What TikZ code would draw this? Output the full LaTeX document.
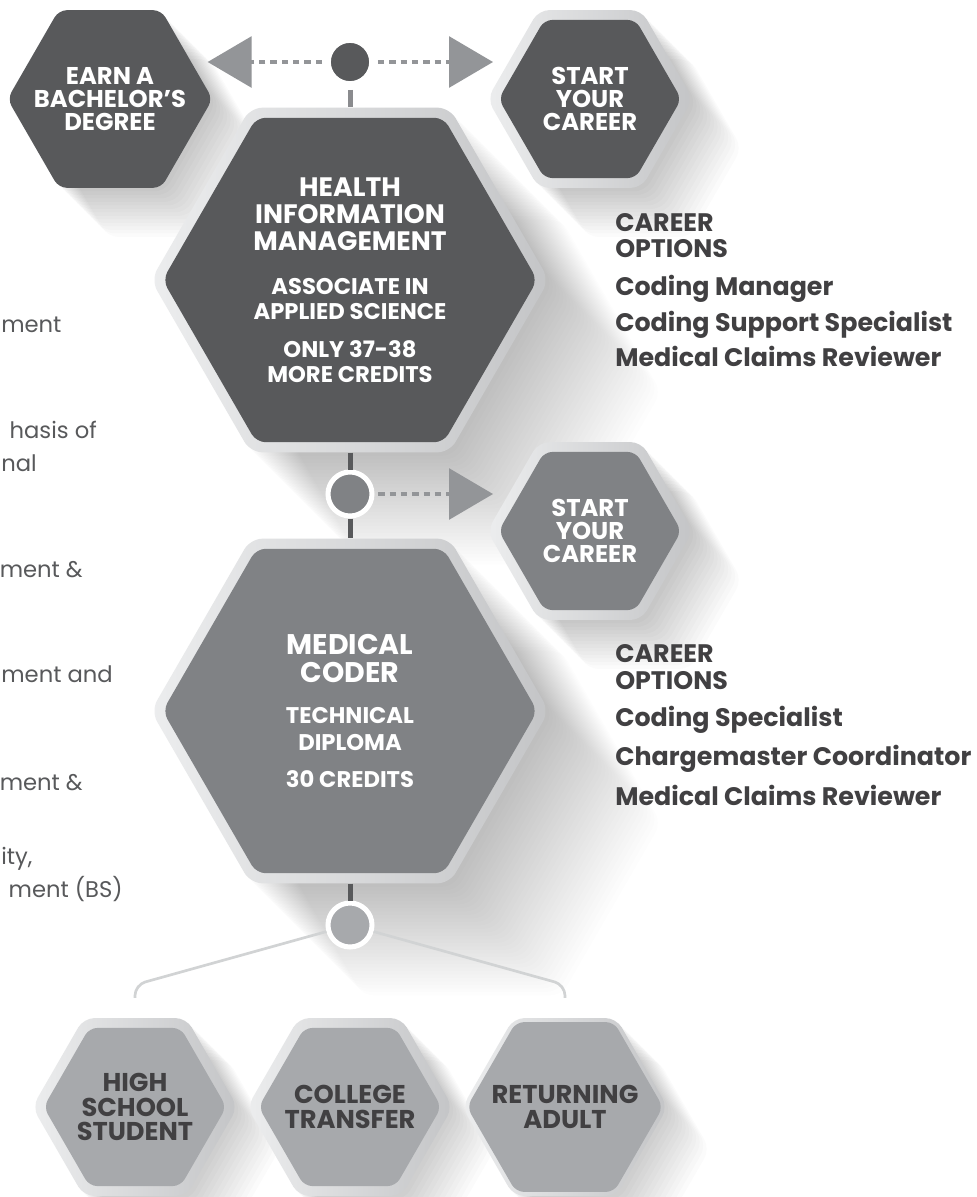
\documentclass[tikz,border=0pt]{standalone}
\usepackage{fontspec}
\setmainfont{Poppins}
\usetikzlibrary{shapes.geometric,arrows.meta}
\definecolor{hexdark}{HTML}{58595B}
\definecolor{hexmid}{HTML}{808285}
\definecolor{hexlight}{HTML}{A7A9AC}
\definecolor{ringleft}{HTML}{ECEDEE}
\definecolor{ringright}{HTML}{C4C5C7}
\definecolor{textdark}{HTML}{414042}
\definecolor{dotgray}{HTML}{939598}
\definecolor{branchgray}{HTML}{D1D3D4}
\definecolor{stemgray}{HTML}{8A8B8E}
\newcommand{\hexsub}{\fontsize{17}{18}\selectfont}
\tikzset{
  hexbase/.style={regular polygon, regular polygon sides=6, inner sep=-10pt, align=center},
  shadowcopy/.style={fill=black, rounded corners=8pt},
  ringsmall/.style={hexbase, minimum size=154pt, rounded corners=8pt, left color=ringleft, right color=ringright},
  ringbig/.style={hexbase, minimum size=298.5pt, rounded corners=9pt, left color=ringleft, right color=ringright},
  hexsmall/.style={hexbase, minimum size=137pt, rounded corners=6pt, text=white,
    font=\fontsize{18.2}{17.4}\selectfont\bfseries},
  hexbig/.style={hexbase, minimum size=281pt, rounded corners=7pt, text=white},
  dot/.style={circle, minimum size=33pt, inner sep=0pt, draw=white, line width=3.75pt},
  dotline/.style={draw=dotgray, line width=3pt, dash pattern=on 4.9pt off 3.6pt, shorten <=2.8pt,
    -{Triangle[length=33pt,width=38pt]}},
  stem/.style={draw=hexdark, line width=3.75pt},
  branch/.style={draw=branchgray, line width=2pt, rounded corners=8pt},
  careers/.style={anchor=north west, align=left, inner sep=0pt, text=textdark,
    font=\fontsize{19}{19.5}\selectfont\bfseries},
  sidetext/.style={anchor=base east, inner sep=0pt, text=hexdark, font=\fontsize{17}{24}\selectfont}
}
\begin{document}
\begin{tikzpicture}[x=0.75pt,y=0.75pt]
\fill[white] (0,0) rectangle (977,-1197);
\useasboundingbox (0,0) rectangle (977,-1197);
% soft shadows, down and to the right
\foreach \cx/\cy/\r/\n/\o in {110/-99/102.75/14/0.016, 590/-99/102.75/14/0.016, 350/-280/199/32/0.0075,
    590/-531/102.75/14/0.016, 350/-711/199/32/0.0075, 135/-1107/102.75/12/0.016,
    350/-1107/102.75/12/0.016, 565/-1107/102.75/12/0.016}
  \foreach \k in {1,...,\n}
    \fill[shadowcopy, opacity=\o] (\cx+\k*3.5,\cy-\k*3.5) ++(0:\r) -- ++(120:\r) -- ++(180:\r)
      -- ++(240:\r) -- ++(300:\r) -- ++(0:\r) -- cycle;
% cut-off list on the left
\node[sidetext, anchor=base west] (fraga) at (1,-332) {ment};
\node[sidetext] (fragb) at (97,-438) {hasis of};
\node[sidetext, anchor=base west] (fragc) at (1,-471) {nal};
\node[sidetext] (fragd) at (83,-577) {ment \&};
\node[sidetext] (frage) at (113,-682) {ment and};
\node[sidetext] (fragf) at (83,-790) {ment \&};
\node[sidetext, anchor=base west] (fragg) at (1,-864) {ity,};
\node[sidetext] (fragh) at (123,-897) {ment (BS)};
%
\node[ringsmall] (bachring) at (110,-99) {};
\node[hexsmall, fill=hexdark] (bach) at (bachring) {EARN A\\BACHELOR'S\\DEGREE};
\node[ringsmall] (topstartring) at (590,-99) {};
\node[hexsmall, fill=hexdark] (topstart) at (topstartring) {START\\YOUR\\CAREER};
%
\node[ringbig] (himring) at (350,-280) {};
\node[hexbig, fill=hexdark, font=\fontsize{20}{20.25}\selectfont\bfseries] (him) at (himring)
  {HEALTH\\INFORMATION\\MANAGEMENT\\[12.4pt]{\hexsub ASSOCIATE IN}\\[-1.5pt]{\hexsub APPLIED SCIENCE}\\[8.25pt]{\hexsub ONLY 37-38}\\[-1.5pt]{\hexsub MORE CREDITS}};
%
\node[ringsmall] (midstartring) at (590,-531) {};
\node[hexsmall, fill=hexmid] (midstart) at (midstartring) {START\\YOUR\\CAREER};
%
\node[ringbig] (mcring) at (350,-711) {};
\node[hexbig, fill=hexmid, font=\fontsize{21.3}{21}\selectfont\bfseries] (mc) at (mcring)
  {MEDICAL\\CODER\\[10pt]{\hexsub TECHNICAL}\\[-0.75pt]{\hexsub DIPLOMA}\\[6.75pt]{\hexsub 30 CREDITS}};
%
\node[ringsmall] (hsring) at (135,-1107) {};
\node[hexsmall, fill=hexlight, text=textdark, font=\fontsize{19.3}{18.4}\selectfont\bfseries] (hs) at (hsring) {HIGH\\SCHOOL\\STUDENT};
\node[ringsmall] (ctring) at (350,-1107) {};
\node[hexsmall, fill=hexlight, text=textdark, font=\fontsize{19.3}{18.4}\selectfont\bfseries] (ct) at (ctring) {COLLEGE\\TRANSFER};
\node[ringsmall] (raring) at (565,-1107) {};
\node[hexsmall, fill=hexlight, text=textdark, font=\fontsize{19.3}{18.4}\selectfont\bfseries] (ra) at (raring) {RETURNING\\ADULT};
%
\node[dot, fill=hexdark, minimum size=32.5pt] (topdot) at (350,-62) {};
\node[dot, fill=hexmid] (middot) at (350,-494) {};
\node[dot, fill=hexlight] (botdot) at (350,-925) {};
%
\draw[dotline] (topdot) -- ([xshift=-4pt]topdot -| bachring.east);
\draw[dotline] (topdot) -- ([xshift=4.5pt]topdot -| topstartring.west);
\draw[stemgray, line width=3.75pt, shorten <=2.8pt] (topdot) -- (himring.north);
\draw[stem] (himring.south) -- (middot);
\draw[dotline] (middot) -- ([xshift=4.5pt]middot -| midstartring.west);
\draw[stem] (middot) -- (mcring.north);
\draw[stem] (mcring.south) -- (botdot);
\draw[branch] (botdot) -- ([yshift=24.75pt]hsring.north) -- ([yshift=15pt]hsring.north);
\draw[branch] (botdot) -- ([yshift=24.75pt]raring.north) -- ([yshift=15pt]raring.north);
%
\node[careers] (himjobs) at (615,-213.5)
  {CAREER\\OPTIONS\\[9pt]Coding Manager\\[5.25pt]Coding Support Specialist\\[5.25pt]Medical Claims Reviewer};
\node[careers] (mcjobs) at (615,-644.5)
  {CAREER\\[0.75pt]OPTIONS\\[8.25pt]Coding Specialist\\[7.9pt]Chargemaster Coordinator\\[7.9pt]Medical Claims Reviewer};
\end{tikzpicture}
\end{document}
